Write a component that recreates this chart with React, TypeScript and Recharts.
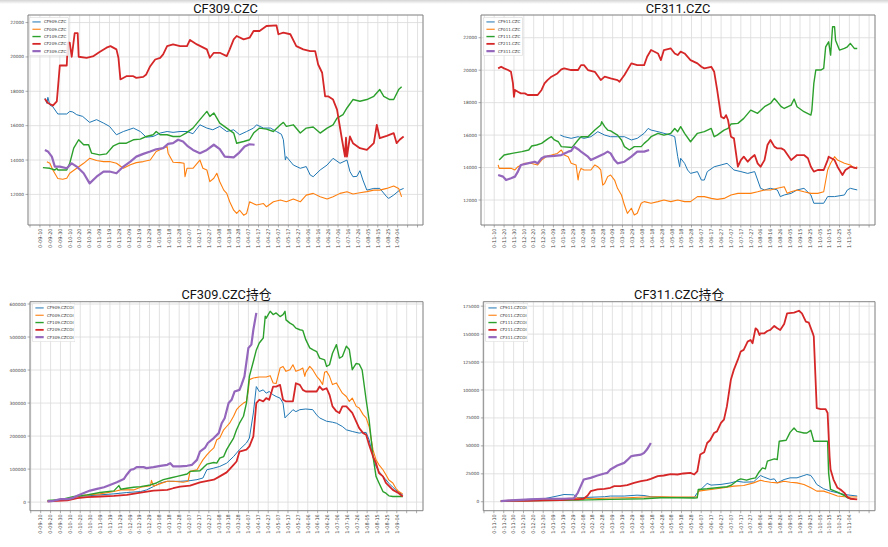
import React from 'react';
import { LineChart, Line, XAxis, YAxis, CartesianGrid, ReferenceArea, Legend } from 'recharts';

// ---------- tick labels ----------
const labels309 = ['0-09-10','0-09-20','0-09-30','0-10-10','0-10-20','0-10-30','0-11-09','0-11-19','0-11-29','0-12-09','0-12-19','0-12-29','1-01-08','1-01-18','1-01-28','1-02-07','1-02-17','1-02-27','1-03-08','1-03-18','1-03-28','1-04-07','1-04-17','1-04-27','1-05-07','1-05-17','1-05-27','1-06-06','1-06-16','1-06-26','1-07-06','1-07-16','1-07-26','1-08-05','1-08-15','1-08-25','1-09-04'];
const labels311 = ['0-11-10','0-11-20','0-11-30','0-12-10','0-12-20','0-12-30','1-01-09','1-01-19','1-01-29','1-02-08','1-02-18','1-02-28','1-03-09','1-03-19','1-03-29','1-04-08','1-04-18','1-04-28','1-05-08','1-05-18','1-05-28','1-06-07','1-06-17','1-06-27','1-07-07','1-07-17','1-07-27','1-08-06','1-08-16','1-08-26','1-09-05','1-09-15','1-09-25','1-10-05','1-10-15','1-10-25','1-11-04'];

const priceTicks = [12000, 14000, 16000, 18000, 20000, 22000];
const oi309Ticks = [0, 100000, 200000, 300000, 400000, 500000, 600000];
const oi311Ticks = [0, 25000, 50000, 75000, 100000, 125000, 150000, 175000];

// ---------- series names ----------
const names309 = ['CF909.CZC', 'CF009.CZC', 'CF109.CZC', 'CF209.CZC', 'CF309.CZC'];
const names311 = ['CF911.CZC', 'CF011.CZC', 'CF111.CZC', 'CF211.CZC', 'CF311.CZC'];
const namesOi309 = ['CF909.CZCOI', 'CF009.CZCOI', 'CF109.CZCOI', 'CF209.CZCOI', 'CF309.CZCOI'];
const namesOi311 = ['CF911.CZCOI', 'CF011.CZCOI', 'CF111.CZCOI', 'CF211.CZCOI', 'CF311.CZCOI'];

// ---------- CF309 prices: [day index, value] ----------
const p309_909 = [[5,17600],[7,17300],[8,17650],[10,17200],[13,17100],[18,16680],[27,16680],[30,16830],[33,16800],[37,16640],[43,16540],[50,16190],[57,16350],[64,16150],[70,15960],[77,15470],[84,15660],[94,15860],[101,15660],[107,15330],[114,15370],[121,15570],[128,15660],[134,15610],[141,15660],[148,15660],[154,15530],[161,16050],[168,15860],[174,15760],[181,15960],[188,15660],[195,15760],[201,15470],[208,15660],[215,15860],[218,16050],[225,15860],[232,15860],[238,15660],[243,15500],[245,15180],[247,14000],[248,14200],[255,13710],[262,13520],[268,13620],[272,13130],[275,13030],[282,13420],[289,13710],[295,14100],[302,13810],[309,14000],[312,13330],[315,13030],[319,13050],[322,13380],[325,12840],[329,12250],[336,12350],[342,12350],[349,11860],[351,11770],[356,11960],[362,12250],[366,12350]];
const p309_009 = [[7,13900],[10,13810],[13,13420],[18,12930],[23,12880],[27,12940],[30,13230],[37,13520],[44,13810],[50,14100],[57,13970],[64,13910],[70,13910],[77,13810],[84,13520],[91,13720],[97,13850],[104,13910],[111,14000],[117,14500],[124,14690],[128,14790],[129,14400],[134,13870],[141,13850],[145,13810],[146,13030],[148,13520],[154,13520],[161,14000],[164,13520],[168,13420],[171,12740],[175,12940],[178,13230],[181,12740],[185,12250],[188,12060],[191,11570],[195,11080],[198,10890],[201,11080],[205,10790],[208,10890],[211,11570],[218,11380],[225,11470],[228,11280],[235,11570],[242,11670],[248,11570],[255,11730],[262,11570],[268,11960],[275,12060],[282,11860],[289,11730],[295,11860],[302,12060],[309,12160],[315,12020],[322,12100],[329,12160],[336,12250],[342,12250],[349,12350],[356,12490],[361,12350],[364,11860]];
const p309_109 = [[3,13560],[10,13520],[15,13420],[17,13520],[18,13420],[27,13420],[30,13810],[34,14690],[39,15180],[44,14890],[49,14890],[52,14400],[60,14300],[67,14360],[74,14830],[80,14980],[87,14980],[94,15180],[101,15220],[107,15370],[114,15470],[117,15660],[121,15470],[128,15470],[134,15370],[141,15370],[147,15570],[154,15860],[161,16350],[168,16830],[171,16540],[175,16740],[181,16150],[188,15860],[195,15570],[198,14980],[205,15080],[211,15180],[215,15570],[221,15860],[228,15800],[235,15660],[242,16050],[245,16190],[248,15960],[255,16050],[262,15570],[268,15860],[275,15920],[282,15570],[289,15860],[295,16050],[299,16440],[305,16640],[309,17030],[315,17520],[322,17420],[329,17520],[336,17710],[342,18100],[346,17710],[352,17520],[356,17520],[361,18100],[364,18260]];
const p309_209 = [[5,17560],[8,17320],[13,17170],[17,17420],[18,18100],[20,19500],[27,19500],[28,20830],[30,20830],[32,20010],[35,21380],[38,21380],[39,20010],[47,19950],[54,20050],[60,20280],[67,20540],[71,20630],[77,20440],[79,19950],[81,18690],[87,18880],[94,18880],[97,18780],[104,18840],[107,18980],[111,19460],[116,19850],[121,19950],[124,20150],[128,20630],[134,20730],[141,20630],[148,20630],[151,20990],[158,20730],[168,20440],[171,19950],[175,20240],[181,20240],[188,20050],[191,20440],[195,21020],[198,21220],[205,21020],[211,21120],[215,21510],[221,21510],[228,21800],[238,21840],[240,21320],[245,21410],[252,21320],[258,20630],[265,20440],[272,20340],[277,20340],[280,19560],[284,19080],[287,17710],[290,17710],[295,17520],[299,16930],[304,15180],[307,14200],[308,15300],[309,14200],[312,15370],[315,14980],[322,14690],[329,14590],[336,14980],[339,16050],[342,15270],[349,15410],[356,15570],[359,14980],[362,15180],[366,15370]];
const p309_309 = [[5,14590],[8,14500],[12,14200],[15,13620],[20,13620],[27,13520],[32,13810],[37,13620],[44,13230],[50,12640],[57,13030],[64,13330],[70,13330],[77,13230],[84,13620],[91,13910],[97,14200],[104,14360],[111,14500],[117,14630],[124,14690],[129,14940],[134,14980],[139,15180],[144,15080],[149,14790],[154,14590],[161,14400],[168,14590],[175,14890],[181,14630],[186,14200],[195,14160],[200,14400],[206,14790],[211,14920],[216,14890]];

// ---------- CF311 prices ----------
const p311_911 = [[67,16000],[71,15900],[78,15800],[85,15900],[91,15800],[98,15900],[105,16210],[112,16000],[118,15900],[125,15900],[132,15900],[139,15700],[145,15800],[152,16110],[156,16410],[159,16310],[166,16210],[172,16110],[179,16000],[183,15900],[186,14670],[188,14050],[189,14570],[193,14260],[196,13850],[199,13640],[206,13750],[210,13230],[213,13230],[216,13750],[223,14050],[230,14160],[236,14260],[243,13850],[250,13750],[257,13640],[264,13750],[270,12720],[274,12620],[280,12720],[287,12620],[290,12210],[294,12310],[301,12410],[307,12620],[314,12720],[321,12310],[324,11800],[334,11800],[338,12210],[345,12210],[355,12310],[358,12620],[361,12720],[368,12620]];
const p311_011 = [[4,14160],[5,13950],[10,13950],[17,13950],[21,13850],[24,14050],[31,14260],[37,14260],[44,14160],[48,14460],[54,14720],[58,14770],[64,14870],[68,15080],[71,14770],[75,14670],[78,14260],[83,14160],[85,13230],[86,13640],[88,13950],[91,13850],[98,13850],[102,14160],[105,14050],[108,13850],[110,12920],[112,13030],[115,13440],[118,13540],[122,13230],[125,12720],[129,12310],[132,11690],[135,11180],[139,11490],[142,11080],[145,11180],[149,11800],[152,11900],[159,11800],[166,11900],[172,12000],[179,11900],[186,12000],[193,11900],[199,11900],[206,12210],[213,12210],[220,12100],[226,12040],[233,12100],[240,12310],[247,12410],[253,12410],[260,12410],[267,12510],[274,12620],[280,12620],[287,12720],[294,12820],[297,12410],[301,12510],[307,12620],[314,12510],[321,12410],[328,12410],[334,12510],[338,13850],[341,14260],[345,14670],[348,14460],[355,14260],[361,14160],[365,13950],[368,14050]];
const p311_111 = [[5,14460],[10,14770],[18,14870],[28,14980],[35,15080],[38,15330],[43,15390],[48,15490],[55,15800],[58,15900],[61,15700],[65,15590],[68,15290],[79,15240],[85,15700],[88,15900],[95,15900],[102,16310],[108,16620],[109,16820],[112,16520],[115,16310],[118,16260],[122,16110],[125,16000],[129,15700],[132,15290],[137,15080],[142,15290],[149,15290],[152,15490],[156,15700],[159,15900],[166,16110],[172,16000],[179,16110],[183,16410],[186,16210],[189,16520],[193,16110],[199,15590],[206,16110],[213,16210],[220,16410],[223,15900],[226,16000],[233,16310],[237,16410],[240,16680],[247,16720],[253,17030],[260,17540],[267,17340],[274,17750],[280,17950],[284,18260],[287,18050],[291,17750],[294,17640],[301,17850],[304,18220],[307,17750],[314,17440],[321,17230],[322,17540],[324,19190],[326,20010],[331,20010],[334,20110],[336,21440],[339,21750],[341,20930],[343,22680],[345,22680],[346,21850],[350,21240],[355,21340],[358,21440],[361,21650],[365,21340],[368,21340]];
const p311_211 = [[4,20110],[7,20210],[10,20110],[14,20010],[17,19900],[19,19190],[20,18360],[21,18780],[24,18670],[27,18570],[31,18570],[34,18470],[41,18470],[44,18470],[48,18780],[51,19190],[54,19390],[58,19600],[64,19800],[68,20050],[71,20110],[78,20010],[85,20010],[88,20310],[91,20310],[95,20010],[102,19900],[108,19390],[112,19600],[118,19490],[125,19390],[127,19290],[132,19700],[139,20420],[145,20310],[152,20310],[155,20830],[159,21240],[166,21030],[169,20620],[172,21240],[179,21340],[183,21030],[186,20930],[189,21140],[193,21030],[199,20620],[206,20420],[210,20210],[213,20110],[220,20210],[223,19900],[226,18780],[230,17130],[233,17030],[235,17230],[237,16930],[240,15900],[243,15800],[247,14050],[250,14460],[253,14670],[257,14360],[260,14570],[264,14770],[267,14260],[270,14050],[274,14460],[277,15390],[280,15700],[284,15290],[287,15180],[291,15180],[294,15080],[301,14460],[307,14770],[314,14770],[318,14570],[321,14050],[324,13750],[328,13850],[334,13850],[338,14460],[339,14670],[345,14460],[348,14050],[353,13540],[356,13850],[361,14050],[368,13950]];
const p311_311 = [[4,13540],[9,13440],[12,13230],[17,13340],[21,13440],[24,13750],[27,14160],[34,14260],[41,14360],[44,14260],[48,14570],[51,14670],[61,14720],[68,14770],[75,14980],[78,15030],[81,15290],[85,15130],[88,14980],[95,14670],[98,14460],[105,14670],[112,14870],[115,14980],[118,14870],[122,14460],[125,14260],[132,14360],[139,14670],[145,14980],[152,14980],[157,15080]];

// ---------- CF309 open interest ----------
const oi309_909 = [[7,4000],[27,7000],[37,17000],[47,19000],[60,22000],[74,25000],[87,29000],[101,32000],[107,37000],[114,47000],[121,58000],[128,63000],[141,63000],[151,65000],[158,68000],[164,73000],[168,98000],[175,103000],[181,108000],[188,118000],[195,138000],[201,159000],[208,179000],[211,194000],[215,270000],[218,350000],[221,335000],[225,340000],[228,330000],[231,335000],[235,325000],[238,320000],[242,315000],[245,300000],[247,255000],[248,259000],[252,270000],[255,280000],[258,274000],[262,280000],[268,282000],[275,280000],[279,264000],[282,255000],[289,245000],[295,242000],[299,239000],[305,229000],[309,219000],[315,214000],[322,209000],[326,211000],[329,211000],[332,189000],[336,138000],[339,108000],[342,93000],[346,78000],[349,68000],[352,57000],[356,45000],[359,37000],[362,29000],[366,22000]];
const oi309_009 = [[7,2000],[27,9000],[37,17000],[47,22000],[60,25000],[74,32000],[81,37000],[94,37000],[101,45000],[111,50000],[112,66000],[114,48000],[121,56000],[128,63000],[134,63000],[144,60000],[149,63000],[151,93000],[158,98000],[161,113000],[164,128000],[168,143000],[171,153000],[175,164000],[178,189000],[181,194000],[185,219000],[188,229000],[191,239000],[195,260000],[198,280000],[201,290000],[205,300000],[208,305000],[210,340000],[211,371000],[215,376000],[221,379000],[228,379000],[232,383000],[235,361000],[238,359000],[242,406000],[245,411000],[248,396000],[252,401000],[255,416000],[258,396000],[262,401000],[265,406000],[267,381000],[268,393000],[272,411000],[275,401000],[279,381000],[282,371000],[285,356000],[287,393000],[289,396000],[292,381000],[295,356000],[299,361000],[302,345000],[305,330000],[309,320000],[312,305000],[315,315000],[319,290000],[322,285000],[326,265000],[329,255000],[332,229000],[336,158000],[339,128000],[342,113000],[346,98000],[349,83000],[352,67000],[356,58000],[359,42000],[362,32000],[366,25000]];
const oi309_109 = [[7,5000],[20,7000],[34,17000],[47,22000],[60,29000],[74,34000],[79,50000],[81,39000],[87,42000],[94,45000],[101,47000],[111,52000],[117,58000],[124,68000],[131,73000],[138,78000],[148,85000],[151,93000],[161,95000],[164,103000],[168,115000],[175,120000],[178,118000],[181,133000],[185,138000],[188,159000],[191,174000],[195,194000],[198,219000],[201,239000],[205,260000],[208,300000],[211,381000],[215,426000],[218,461000],[221,482000],[225,497000],[227,563000],[228,557000],[232,578000],[235,568000],[238,573000],[242,562000],[245,568000],[247,578000],[248,552000],[252,542000],[255,537000],[258,527000],[262,522000],[265,520000],[268,492000],[272,467000],[275,462000],[279,456000],[282,436000],[287,431000],[289,411000],[292,416000],[295,451000],[299,477000],[302,436000],[305,441000],[309,472000],[312,462000],[315,401000],[319,420000],[322,418000],[325,400000],[329,310000],[332,249000],[336,138000],[339,78000],[342,58000],[346,32000],[349,27000],[352,19000],[356,17000],[366,17000]];
const oi309_209 = [[7,2000],[27,5000],[37,12000],[47,15000],[60,17000],[74,19000],[87,22000],[101,29000],[114,35000],[128,37000],[134,42000],[141,47000],[151,50000],[161,60000],[175,68000],[181,78000],[188,90000],[195,113000],[198,123000],[201,153000],[208,159000],[211,169000],[215,199000],[218,300000],[221,310000],[225,305000],[228,315000],[231,310000],[235,350000],[238,350000],[242,355000],[245,310000],[248,305000],[255,305000],[258,360000],[262,355000],[265,340000],[268,335000],[275,335000],[279,335000],[282,350000],[285,340000],[289,345000],[292,325000],[295,290000],[299,275000],[302,270000],[305,290000],[309,290000],[312,280000],[315,270000],[322,224000],[326,209000],[329,204000],[332,174000],[336,138000],[339,118000],[342,88000],[346,78000],[349,58000],[356,37000],[362,27000],[366,17000]];
const oi309_309 = [[7,2000],[13,4000],[20,9000],[27,9000],[32,12000],[37,19000],[43,27000],[50,35000],[57,40000],[64,45000],[70,52000],[77,60000],[84,70000],[87,83000],[91,98000],[94,100000],[97,106000],[104,106000],[107,103000],[114,106000],[121,110000],[128,113000],[131,118000],[134,108000],[141,108000],[148,110000],[153,113000],[158,128000],[161,153000],[166,164000],[169,179000],[175,194000],[180,209000],[183,239000],[186,254000],[190,300000],[193,310000],[196,335000],[201,340000],[203,355000],[206,381000],[210,467000],[213,477000],[215,522000],[218,573000]];

// ---------- CF311 open interest ----------
const oi311_911 = [[7,600],[34,2100],[51,2700],[64,5100],[71,6500],[81,6200],[85,3600],[112,4500],[118,5100],[132,5100],[145,5900],[152,5600],[159,4500],[179,3900],[203,3900],[206,8000],[216,16400],[220,14900],[230,15500],[240,16900],[246,18400],[253,17500],[263,17800],[270,23500],[273,22300],[280,19900],[284,20500],[287,16900],[294,19900],[300,21400],[307,21400],[314,23500],[317,24400],[321,23500],[324,19900],[327,15500],[334,11600],[341,9500],[355,6500],[368,5100]];
const oi311_011 = [[7,600],[34,1500],[51,2100],[68,2700],[85,3300],[101,2700],[118,3300],[135,3600],[152,4200],[169,4500],[186,4200],[206,4500],[207,9500],[220,11000],[233,12500],[243,14000],[253,14600],[263,16900],[270,19300],[274,18400],[280,17500],[287,16900],[294,18400],[300,17500],[307,16900],[314,15500],[321,12500],[327,9500],[334,9500],[341,7400],[348,5100],[355,4500],[368,4200]];
const oi311_111 = [[7,600],[85,1500],[118,2100],[152,2700],[169,3600],[186,3600],[203,3300],[206,3600],[207,11000],[216,11600],[226,12500],[236,13400],[240,14600],[247,19300],[250,20500],[256,19300],[260,20500],[265,21400],[268,25900],[272,30300],[275,29400],[277,36300],[284,38400],[287,37800],[289,54100],[296,55000],[300,62100],[304,66000],[307,63000],[314,61500],[317,61500],[321,63900],[324,54100],[338,54100],[339,25900],[341,11000],[348,8600],[355,5600],[358,3600],[365,2100]];
const oi311_211 = [[7,600],[17,900],[34,900],[51,1200],[68,1500],[78,2100],[85,2100],[91,2700],[95,5600],[98,9500],[105,11000],[112,11600],[118,12500],[122,14000],[128,14000],[135,14900],[142,16900],[149,18400],[155,19300],[159,20500],[166,22900],[172,23500],[179,24700],[186,24400],[192,25300],[199,25900],[203,24400],[206,27100],[209,42200],[213,44300],[216,52600],[219,55000],[223,61500],[226,63000],[230,70500],[233,73400],[236,85300],[240,109100],[243,118000],[247,126900],[250,134400],[253,135900],[257,143300],[260,144800],[262,141800],[265,155200],[267,153700],[269,149200],[270,150700],[274,150700],[277,152800],[280,153700],[284,157300],[287,155200],[290,153700],[294,159100],[297,168600],[304,169200],[309,170900],[312,168600],[316,161100],[319,160200],[323,150700],[324,147800],[327,83800],[331,82900],[336,82900],[338,79400],[340,40700],[341,28800],[344,19900],[348,12500],[351,11000],[355,8000],[358,4200],[361,2700],[368,2100]];
const oi311_311 = [[7,600],[17,1200],[37,2100],[51,2700],[71,2700],[81,3000],[85,8000],[88,14000],[91,19900],[98,21400],[105,23500],[112,25300],[115,25900],[118,28800],[125,32400],[132,34800],[135,37200],[139,40700],[142,41300],[149,42200],[152,43700],[155,46700],[157,49600],[159,52600]];

// ---------- styles ----------
const COLORS = ['#1f77b4', '#ff7f0e', '#2ca02c', '#d62728', '#9467bd'];
const WIDTHS = [1, 1.1, 1.4, 1.8, 2.2];
const TICK_FONT = 'DejaVu Sans, sans-serif';

type Series = number[][];

interface PanelProps {
  title: string;
  names: string[];
  series: Series[];
  labels: string[];
  left: number;
  top: number;
  width: number;
  height: number;
  margin: { top: number; right: number; bottom: number; left: number };
  yAxisWidth: number;
  xAxisHeight: number;
  xDomain: [number, number];
  yDomain: [number, number];
  yTicks: number[];
  legendPos: { left: number; top: number; width: number };
  titleY: number;
}

const makeXTick = (labels: string[]) => (props: any) => {
  const { x, y, payload } = props;
  const v = payload.value;
  const i = Math.round(v / 10);
  const label = v >= 0 && i < labels.length ? labels[i] : '';
  if (!label) return <g />;
  return (
    <text x={x} y={y} transform={`rotate(-90, ${x}, ${y})`} textAnchor="end" dy="0.36em"
      fontSize={5} fill="#444" fontFamily={TICK_FONT}>{label}</text>
  );
};

// legend drawn in series order (names / COLORS / WIDTHS share the same index)
const makeLegend = (names: string[], w: number) => () => {
  const rowH = 7.3;
  const h = names.length * rowH + 2.6;
  return (
    <svg width={w} height={h} style={{ display: 'block' }}>
      <rect x={0.3} y={0.3} width={w - 0.6} height={h - 0.6} rx={1.5} fill="#fff" fillOpacity={0.85} stroke="#cfcfcf" strokeWidth={0.6} />
      {names.map((n, i) => {
        const cy = 1.3 + rowH * i + rowH / 2;
        return (
          <g key={n}>
            <line x1={3.4} x2={11.7} y1={cy} y2={cy} stroke={COLORS[i]} strokeWidth={WIDTHS[i]} />
            <text x={15} y={cy} dy="0.35em" fontSize={4} fill="#333" fontFamily={TICK_FONT}>{n}</text>
          </g>
        );
      })}
    </svg>
  );
};

const Panel = (p: PanelProps) => {
  const xTicks = [-10, ...p.labels.map((_, i) => i * 10), 370, 380];
  const plotLeft = p.margin.left + p.yAxisWidth;
  const plotRight = p.width - p.margin.right;
  const cx = (plotLeft + plotRight) / 2;
  return (
    <div style={{ position: 'absolute', left: p.left, top: p.top, width: p.width, height: p.height }}>
      <LineChart width={p.width} height={p.height} margin={p.margin}>
        <CartesianGrid stroke="#dadada" strokeWidth={0.8} />
        <XAxis type="number" dataKey="d" domain={p.xDomain} ticks={xTicks} interval={0}
          allowDataOverflow height={p.xAxisHeight} axisLine={false}
          tickLine={{ stroke: '#777', strokeWidth: 0.6 }} tickSize={2.5} tickMargin={1}
          tick={makeXTick(p.labels)} />
        <YAxis type="number" domain={p.yDomain} ticks={p.yTicks} interval={0} allowDataOverflow
          width={p.yAxisWidth} axisLine={false}
          tickLine={{ stroke: '#777', strokeWidth: 0.6 }} tickSize={2.5} tickMargin={1.5}
          tick={{ fontSize: 4.3, fill: '#444', fontFamily: TICK_FONT }} />
        <ReferenceArea x1={p.xDomain[0]} x2={p.xDomain[1]} y1={p.yDomain[0]} y2={p.yDomain[1]}
          fill="none" stroke="#808080" strokeWidth={0.9} ifOverflow="visible" />
        {p.series.map((s, i) => (
          <Line key={p.names[i]} name={p.names[i]} data={s.map(([d, v]) => ({ d, v }))} dataKey="v"
            type="linear" stroke={COLORS[i]} strokeWidth={WIDTHS[i]} dot={false} activeDot={false}
            isAnimationActive={false} strokeLinejoin="round" />
        ))}
        <Legend layout="horizontal" verticalAlign="middle" align="center"
          content={makeLegend(p.names, p.legendPos.width)}
          wrapperStyle={{ left: p.legendPos.left, top: p.legendPos.top, width: p.legendPos.width, height: 'auto' }} />
      </LineChart>
      <svg width={p.width} height={p.height} style={{ position: 'absolute', left: 0, top: 0, pointerEvents: 'none' }}>
        <text x={cx} y={p.titleY} textAnchor="middle" fontSize={12.8} fill="#111"
          fontFamily="Roboto, 'Noto Sans CJK SC', sans-serif">{p.title}</text>
      </svg>
    </div>
  );
};

export default function App() {
  return (
    <div style={{ position: 'absolute', left: 0, top: 0, width: 888, height: 547, background: '#fff', overflow: 'hidden' }}>
      <div style={{ position: 'absolute', left: 0, top: 0, width: 888, height: 4, background: 'linear-gradient(#d4d4d4, #ffffff)' }} />
      <Panel title="CF309.CZC" names={names309}
        series={[p309_909, p309_009, p309_109, p309_209, p309_309]} labels={labels309}
        left={0} top={0} width={444} height={270}
        margin={{ top: 15, right: 21, bottom: 0, left: 0 }} yAxisWidth={28} xAxisHeight={45}
        xDomain={[-12, 385.5]} yDomain={[10220, 22440]} yTicks={priceTicks}
        legendPos={{ left: 28.5, top: 16.7, width: 40 }} titleY={13} />
      <Panel title="CF311.CZC" names={names311}
        series={[p311_911, p311_011, p311_111, p311_211, p311_311]} labels={labels311}
        left={444} top={0} width={444} height={270}
        margin={{ top: 15, right: 13, bottom: 0, left: 0 }} yAxisWidth={37} xAxisHeight={45}
        xDomain={[-13.4, 386]} yDomain={[10460, 23400]} yTicks={priceTicks}
        legendPos={{ left: 38.5, top: 16.7, width: 40 }} titleY={13} />
      <Panel title="CF309.CZC持仓" names={namesOi309}
        series={[oi309_909, oi309_009, oi309_109, oi309_209, oi309_309]} labels={labels309}
        left={0} top={270} width={444} height={277}
        margin={{ top: 31.7, right: 21, bottom: 0, left: 0 }} yAxisWidth={30} xAxisHeight={36.3}
        xDomain={[-10.8, 386.5]} yDomain={[-26000, 607000]} yTicks={oi309Ticks}
        legendPos={{ left: 31.7, top: 33.3, width: 43.5 }} titleY={29.4} />
      <Panel title="CF311.CZC持仓" names={namesOi311}
        series={[oi311_911, oi311_011, oi311_111, oi311_211, oi311_311]} labels={labels311}
        left={444} top={270} width={444} height={277}
        margin={{ top: 31.7, right: 13, bottom: 0, left: 0 }} yAxisWidth={39.3} xAxisHeight={36.3}
        xDomain={[-10.7, 386]} yDomain={[-8000, 179000]} yTicks={oi311Ticks}
        legendPos={{ left: 40.5, top: 33.3, width: 43.5 }} titleY={29.4} />
    </div>
  );
}
